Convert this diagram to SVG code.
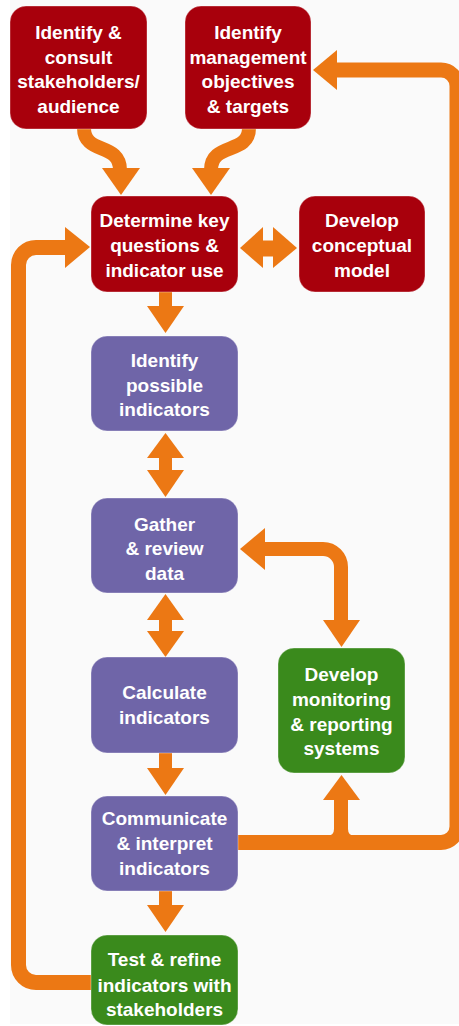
<svg xmlns="http://www.w3.org/2000/svg" width="459" height="1026" viewBox="0 0 459 1026">
<style>
.bg{fill:#fafafa}
.red{fill:#a8000c}
.pur{fill:#6f65a8}
.grn{fill:#3a8a1c}
.box{stroke:#ffffff;stroke-opacity:0.35;stroke-width:1}
.t{font-family:"Liberation Sans",Arial,Helvetica,sans-serif;font-weight:bold;font-size:19px;fill:#ffffff;text-anchor:middle}
.s{fill:none;stroke:#ec7814;stroke-width:14}
.o{fill:#ec7814}
</style>
<rect x="0" y="0" width="459" height="1026" fill="#ffffff"/>
<rect class="bg" x="10" y="0" width="449" height="1024"/>

<g id="connectors">
  <!-- curved arrows from top boxes -->
  <path class="s" d="M 84 128 C 84 155, 120 142, 120 170"/>
  <polygon class="o" points="102,168 140,168 121,195"/>
  <path class="s" d="M 249 128 C 249 155, 211 142, 211 170"/>
  <polygon class="o" points="192,168 230,168 211,195"/>
  <!-- double arrow box3 <-> box4 -->
  <path class="s" d="M 261 248.5 L 275 248.5" style="stroke-width:16"/>
  <polygon class="o" points="240,248 263,227 263,268"/>
  <polygon class="o" points="297,248 273,227 273,268"/>
  <!-- box3 -> box5 -->
  <path class="s" d="M 165.5 292 L 165.5 308" style="stroke-width:13"/>
  <polygon class="o" points="147,306 184,306 165.5,333"/>
  <!-- box5 <-> box6 -->
  <path class="s" d="M 165.5 456 L 165.5 472" style="stroke-width:13"/>
  <polygon class="o" points="165.5,433 147,458 184,458"/>
  <polygon class="o" points="165.5,497 147,470 184,470"/>
  <!-- box6 <-> box7 -->
  <path class="s" d="M 165.5 618 L 165.5 633" style="stroke-width:13"/>
  <polygon class="o" points="165.5,594 147,620 184,620"/>
  <polygon class="o" points="165.5,657 147,631 184,631"/>
  <!-- box7 -> box9 -->
  <path class="s" d="M 165.5 753 L 165.5 770" style="stroke-width:13"/>
  <polygon class="o" points="147,768 184,768 165.5,795"/>
  <!-- box9 -> box10 -->
  <path class="s" d="M 165.5 891 L 165.5 907" style="stroke-width:13"/>
  <polygon class="o" points="147,905 184,905 165.5,932"/>
  <!-- box6 <-> box8 -->
  <path class="s" d="M 262 549 L 323 549 A 18 18 0 0 1 341 567 L 341 622"/>
  <polygon class="o" points="240,549 265,528 265,570"/>
  <polygon class="o" points="323,620 360,620 341.5,647"/>
  <!-- box9 -> right loop -> box2, branch up to box8 -->
  <path class="s" d="M 237 842.5 L 441 842.5 A 16 16 0 0 0 457 826.5 L 457 86 A 16 16 0 0 0 441 70 L 335 70" style="stroke-width:15"/>
  <polygon class="o" points="313,70 337,50 337,90"/>
  <path class="s" d="M 341 845 L 341 798"/>
  <path class="o" d="M 327 836 Q 334 836 334 829 L 334 836 Z"/>
  <path class="o" d="M 355 836 Q 348 836 348 829 L 348 836 Z"/>
  <polygon class="o" points="323,800 360,800 341.5,775"/>
  <!-- box10 -> left loop -> box3 -->
  <path class="s" d="M 92 982.5 L 36 982.5 A 17.5 17.5 0 0 1 18.5 965 L 18.5 265 A 17.5 17.5 0 0 1 36 247.5 L 67 247.5" style="stroke-width:15"/>
  <polygon class="o" points="90,247 65,227 65,268"/>
</g>

<g id="n1">
  <rect class="red box" x="10" y="6" width="137" height="123" rx="16"/>
  <text class="t" x="78.5" y="39">Identify &amp;</text>
  <text class="t" x="78.5" y="63.5">consult</text>
  <text class="t" x="78.5" y="88">stakeholders/</text>
  <text class="t" x="78.5" y="112.5">audience</text>
</g>
<g id="n2">
  <rect class="red box" x="185" y="6" width="126" height="123" rx="16"/>
  <text class="t" x="248" y="39">Identify</text>
  <text class="t" x="248" y="63.5">management</text>
  <text class="t" x="248" y="88">objectives</text>
  <text class="t" x="248" y="112.5">&amp; targets</text>
</g>
<g id="n3">
  <rect class="red box" x="91" y="196" width="147" height="96" rx="16"/>
  <text class="t" x="164.5" y="227">Determine key</text>
  <text class="t" x="164.5" y="252">questions &amp;</text>
  <text class="t" x="164.5" y="277">indicator use</text>
</g>
<g id="n4">
  <rect class="red box" x="299" y="196" width="126" height="96" rx="16"/>
  <text class="t" x="362" y="227">Develop</text>
  <text class="t" x="362" y="252">conceptual</text>
  <text class="t" x="362" y="277">model</text>
</g>
<g id="n5">
  <rect class="pur box" x="91" y="336" width="147" height="95" rx="16"/>
  <text class="t" x="164.5" y="367">Identify</text>
  <text class="t" x="164.5" y="391.5">possible</text>
  <text class="t" x="164.5" y="416">indicators</text>
</g>
<g id="n6">
  <rect class="pur box" x="91" y="498" width="147" height="95" rx="16"/>
  <text class="t" x="164.5" y="530.5">Gather</text>
  <text class="t" x="164.5" y="555">&amp; review</text>
  <text class="t" x="164.5" y="579.5">data</text>
</g>
<g id="n7">
  <rect class="pur box" x="91" y="657" width="147" height="96" rx="16"/>
  <text class="t" x="164.5" y="699">Calculate</text>
  <text class="t" x="164.5" y="724">indicators</text>
</g>
<g id="n8">
  <rect class="grn box" x="278" y="648" width="127" height="125" rx="16"/>
  <text class="t" x="341.5" y="681">Develop</text>
  <text class="t" x="341.5" y="705.5">monitoring</text>
  <text class="t" x="341.5" y="730.5">&amp; reporting</text>
  <text class="t" x="341.5" y="755">systems</text>
</g>
<g id="n9">
  <rect class="pur box" x="91" y="796" width="147" height="95" rx="16"/>
  <text class="t" x="164.5" y="825">Communicate</text>
  <text class="t" x="164.5" y="850">&amp; interpret</text>
  <text class="t" x="164.5" y="875">indicators</text>
</g>
<g id="n10">
  <rect class="grn box" x="91" y="935" width="147" height="90" rx="16"/>
  <text class="t" x="164.5" y="966">Test &amp; refine</text>
  <text class="t" x="164.5" y="991.5">indicators with</text>
  <text class="t" x="164.5" y="1016">stakeholders</text>
</g>
</svg>
